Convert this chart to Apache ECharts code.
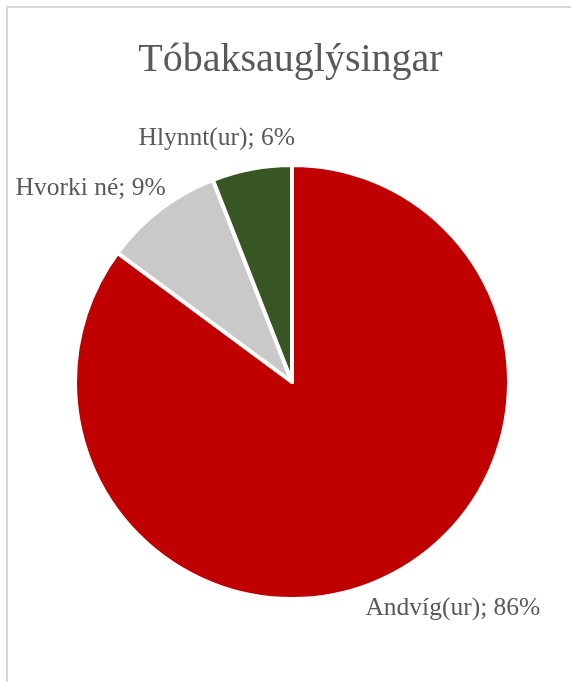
<!DOCTYPE html>
<html>
<head>
<meta charset="utf-8">
<script src="https://cdn.jsdelivr.net/npm/echarts@6/dist/echarts.min.js"></script>
<style>
  html, body { margin: 0; padding: 0; background: #fff; }
  #chart {
    position: absolute;
    left: 6px;
    top: 6px;
    width: 565px;
    height: 676px;
    border-left: 2px solid #d9d9d9;
    border-top: 2px solid #d9d9d9;
  }
</style>
</head>
<body>
<div id="chart"></div>
<script>
const categories = ['Andvíg(ur)', 'Hvorki né', 'Hlynnt(ur)'];
const shares = [86, 9, 6];
const sliceColors = ['#c00000', '#c9c9c9', '#375623'];

const chart = echarts.init(document.getElementById('chart'));

// nudge labels to where excel put them
const labelNudge = [[-31, 29], [13, -18], [49, -27]];

chart.setOption({
  animation: false,
  title: {
    text: 'Tóbaksauglýsingar',
    left: 'center',
    top: 27,
    textStyle: {
      fontFamily: 'Liberation Serif',
      fontWeight: 'normal',
      fontSize: 40,
      color: '#595959'
    }
  },
  series: [{
    type: 'pie',
    center: [284, 374],
    radius: 217,
    startAngle: 90,
    clockwise: true,
    itemStyle: { borderColor: '#fff', borderWidth: 4 },
    label: {
      show: true,
      position: 'outside',
      formatter: p => p.name + '; ' + p.value + '%',
      fontFamily: 'Liberation Serif',
      fontSize: 25.5,
      color: '#595959',
      overflow: 'none'
    },
    labelLine: { show: false, length: 4, length2: 0 },
    labelLayout: params => ({
      hideOverlap: false,
      dx: labelNudge[params.dataIndex][0],
      dy: labelNudge[params.dataIndex][1]
    }),
    data: categories.map((c, i) => ({
      name: c,
      value: shares[i],
      itemStyle: { color: sliceColors[i] }
    }))
  }]
});
</script>
</body>
</html>
